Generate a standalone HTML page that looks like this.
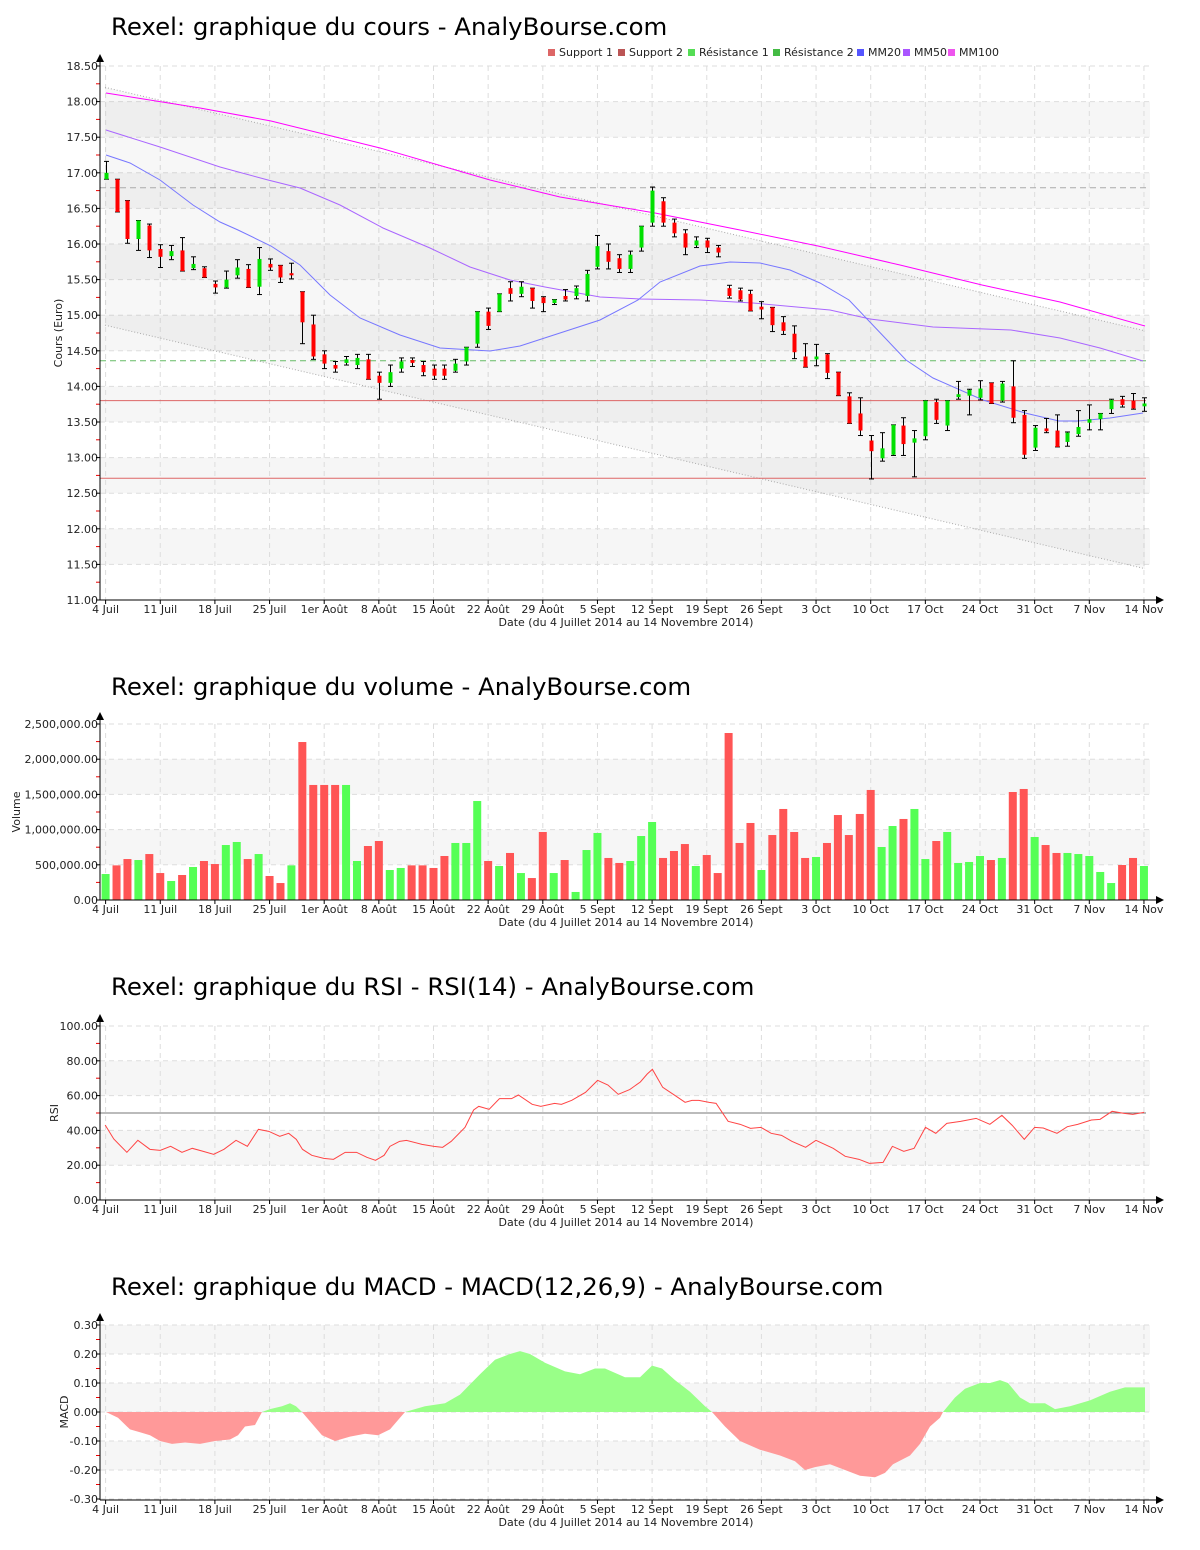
<!DOCTYPE html>
<html><head><meta charset="utf-8"><style>
html,body{margin:0;padding:0;background:#fff;}
svg{display:block;font-family:"DejaVu Sans","Liberation Sans",sans-serif;}
</style></head><body>
<svg id="s" width="1200" height="1550" xmlns="http://www.w3.org/2000/svg">
<text x="111" y="35" font-size="24.4" fill="#000">Rexel: graphique du cours - AnalyBourse.com</text>
<text x="111" y="695" font-size="24.4" fill="#000">Rexel: graphique du volume - AnalyBourse.com</text>
<text x="111" y="995" font-size="24.4" fill="#000">Rexel: graphique du RSI - RSI(14) - AnalyBourse.com</text>
<text x="111" y="1295" font-size="24.4" fill="#000">Rexel: graphique du MACD - MACD(12,26,9) - AnalyBourse.com</text>
</svg>
<script>
const S=document.getElementById('s');const NS='http://www.w3.org/2000/svg';
function el(t,a,txt){const e=document.createElementNS(NS,t);for(const k in a)e.setAttribute(k,a[k]);if(txt!==undefined)e.textContent=txt;S.appendChild(e);return e;}
const X=i=>105.6+10.93*i;
const L=100,R=1150;
const dates=["4 Juil","11 Juil","18 Juil","25 Juil","1er Août","8 Août","15 Août","22 Août","29 Août","5 Sept","12 Sept","19 Sept","26 Sept","3 Oct","10 Oct","17 Oct","24 Oct","31 Oct","7 Nov","14 Nov"];
function frame(top,bot,vals,yf,fmt,bands,title,tmid){
  bands.forEach(b=>{const y1=yf(b[0]),y2=yf(b[1]);el('rect',{x:L,y:Math.min(y1,y2),width:R-L,height:Math.abs(y2-y1),fill:'#f6f6f6'});});
  vals.forEach(v=>{const y=yf(v);el('line',{x1:L,x2:R,y1:y,y2:y,stroke:'#ddd','stroke-dasharray':'5,4'});
    el('text',{x:98,y:y+4,'font-size':11,'text-anchor':'end',fill:'#222'},fmt(v));
    el('line',{x1:96,x2:100,y1:y,y2:y,stroke:'#000'});});
  for(let k=0;k<vals.length-1;k++){const y=(yf(vals[k])+yf(vals[k+1]))/2;el('line',{x1:96,x2:100,y1:y,y2:y,stroke:'#e00'});}
  for(let w=0;w<20;w++){const x=X(w*5);el('line',{x1:x,x2:x,y1:top,y2:bot,stroke:'#ddd','stroke-dasharray':'5,4'});
    el('line',{x1:x,x2:x,y1:bot,y2:bot+4,stroke:'#000'});
    el('text',{x:x,y:bot+13,'font-size':11,'text-anchor':'middle',fill:'#222'},dates[w]);}
  el('text',{x:626,y:bot+26,'font-size':11,'text-anchor':'middle',fill:'#222'},"Date (du 4 Juillet 2014 au 14 Novembre 2014)");
  el('text',{x:0,y:0,'font-size':11,'text-anchor':'middle',fill:'#222',transform:`translate(${tmid[0]},${tmid[1]}) rotate(-90)`},title);
}
function axes(top,bot){
  el('line',{x1:L,x2:L,y1:top-6,y2:bot,stroke:'#000'});
  el('line',{x1:L,x2:1158,y1:bot,y2:bot,stroke:'#000'});
  el('polygon',{points:`${L-4},${top-4} ${L+4},${top-4} ${L},${top-12}`,fill:'#000'});
  el('polygon',{points:`1156,${bot-4} 1156,${bot+4} 1164,${bot}`,fill:'#000'});
}
const yp=p=>66+(18.5-p)*71.2;
let pv=[];for(let v=11;v<=18.5001;v+=0.5)pv.push(+v.toFixed(2));
frame(66,600,pv,yp,v=>v.toFixed(2),[[18,17.5],[17,16.5],[16,15.5],[15,14.5],[14,13.5],[13,12.5],[12,11.5]],"Cours (Euro)",[62,333]);
el('polygon',{points:`105,${yp(18.2)} 1145,${yp(14.78)} 1145,${yp(11.44)} 105,${yp(14.86)}`,fill:'rgba(0,0,0,0.03)'});
el('line',{x1:105,y1:yp(18.2),x2:1145,y2:yp(14.78),stroke:'#aaa','stroke-dasharray':'1,2'});
el('line',{x1:105,y1:yp(14.86),x2:1145,y2:yp(11.44),stroke:'#aaa','stroke-dasharray':'1,2'});
el('line',{x1:L,x2:1146,y1:yp(13.8),y2:yp(13.8),stroke:'#d66'});
el('line',{x1:L,x2:1146,y1:yp(12.71),y2:yp(12.71),stroke:'#d66'});
el('line',{x1:L,x2:1146,y1:yp(14.36),y2:yp(14.36),stroke:'#6b6','stroke-dasharray':'6,4'});
el('line',{x1:L,x2:1146,y1:yp(16.79),y2:yp(16.79),stroke:'#aaa','stroke-dasharray':'6,4'});
function pl(pts,c){el('polyline',{points:pts.map(p=>p.join(',')).join(' '),fill:'none',stroke:c,'stroke-width':1});}
pl([[106,93],[200,108],[271,121],[380,148],[490,180],[560,197],[655,213],[740,230],[818,246],[900,265],[982,285],[1060,302],[1145,326]],'#f0f');
pl([[106,130],[160,147],[220,167],[268,180],[300,188],[340,205],[383,228],[430,248],[470,267],[510,280],[545,287],[600,297],[640,299],[700,300],[753,303],[830,310],[870,319],[933,327],[1011,330],[1060,338],[1100,348],[1143,361]],'#a6f');
pl([[106,155],[130,163],[160,180],[193,205],[220,222],[238,230],[271,246],[300,265],[330,295],[360,318],[400,335],[440,348],[490,351],[520,346],[560,333],[600,320],[638,300],[660,282],[700,266],[730,262],[760,263],[790,270],[820,283],[849,300],[868,320],[906,360],[933,378],[983,400],[1025,413],[1059,421],[1078,421],[1110,418],[1143,413]],'#77f');
const C=[[16.91,17.0,17.16,16.91],[16.91,16.45,16.91,16.45],[16.61,16.07,16.61,16.01],[16.07,16.33,16.33,15.91],[16.26,15.91,16.28,15.81],[15.93,15.82,15.99,15.67],[15.83,15.9,15.98,15.78],[15.91,15.62,16.09,15.62],[15.66,15.72,15.82,15.64],[15.66,15.53,15.68,15.53],
[15.44,15.39,15.48,15.31],[15.39,15.5,15.62,15.38],[15.56,15.67,15.78,15.52],[15.65,15.39,15.71,15.39],[15.4,15.79,15.95,15.29],[15.72,15.67,15.79,15.63],[15.7,15.53,15.7,15.46],[15.59,15.56,15.73,15.51],[15.33,14.9,15.33,14.6],[14.87,14.42,15.0,14.38],
[14.45,14.32,14.5,14.25],[14.3,14.25,14.35,14.2],[14.33,14.38,14.42,14.3],[14.3,14.4,14.45,14.25],[14.38,14.1,14.45,14.1],[14.15,14.05,14.2,13.82],[14.05,14.2,14.3,14.0],[14.25,14.35,14.4,14.2],[14.37,14.33,14.4,14.28],[14.3,14.2,14.35,14.15],
[14.25,14.15,14.3,14.1],[14.25,14.15,14.3,14.1],[14.22,14.32,14.38,14.2],[14.35,14.55,14.55,14.3],[14.6,15.05,15.05,14.55],[15.05,14.85,15.1,14.8],[15.05,15.3,15.3,15.05],[15.38,15.3,15.47,15.2],[15.3,15.4,15.47,15.26],[15.38,15.2,15.38,15.1],
[15.25,15.17,15.26,15.05],[15.17,15.22,15.22,15.15],[15.27,15.22,15.36,15.2],[15.27,15.38,15.41,15.23],[15.27,15.58,15.63,15.2],[15.68,15.97,16.12,15.65],[15.9,15.75,16.0,15.65],[15.8,15.65,15.85,15.6],[15.65,15.85,15.9,15.6],[15.95,16.25,16.25,15.9],
[16.3,16.75,16.8,16.25],[16.6,16.3,16.65,16.25],[16.3,16.15,16.35,16.1],[16.15,15.95,16.2,15.85],[15.98,16.05,16.1,15.95],[16.05,15.95,16.08,15.88],[15.95,15.88,15.98,15.82],[15.38,15.27,15.42,15.24],[15.35,15.22,15.38,15.2],[15.3,15.06,15.35,15.06],
[15.12,15.08,15.19,14.95],[15.11,14.86,15.11,14.77],[14.9,14.78,14.98,14.73],[14.74,14.48,14.85,14.39],[14.42,14.27,14.6,14.27],[14.38,14.42,14.59,14.29],[14.45,14.19,14.46,14.11],[14.2,13.87,14.2,13.87],[13.86,13.48,13.91,13.48],[13.62,13.38,13.84,13.31],
[13.24,13.09,13.31,12.7],[12.99,13.13,13.35,12.95],[13.04,13.46,13.46,13.03],[13.45,13.19,13.56,13.03],[13.21,13.27,13.38,12.73],[13.3,13.8,13.8,13.25],[13.78,13.53,13.82,13.48],[13.45,13.8,13.8,13.38],[13.85,13.89,14.07,13.82],[13.87,13.95,13.96,13.6],
[13.84,13.97,14.08,13.81],[14.05,13.76,14.05,13.76],[13.8,14.04,14.07,13.78],[14.0,13.56,14.36,13.49],[13.6,13.04,13.66,12.99],[13.14,13.42,13.45,13.1],[13.41,13.37,13.55,13.35],[13.38,13.15,13.6,13.15],[13.22,13.35,13.36,13.16],[13.33,13.43,13.66,13.3],
[13.49,13.54,13.74,13.39],[13.54,13.62,13.62,13.39],[13.68,13.81,13.82,13.62],[13.82,13.74,13.86,13.71],[13.8,13.69,13.9,13.68],[13.72,13.76,13.84,13.65]];
C.forEach((c,i)=>{const x=Math.round(X(i))+0.5;const [o,cl,h,l]=c;
  el('line',{x1:x,x2:x,y1:yp(h),y2:yp(l),stroke:'#000'});
  el('line',{x1:x-2.5,x2:x+2.5,y1:yp(h),y2:yp(h),stroke:'#000'});
  el('line',{x1:x-2.5,x2:x+2.5,y1:yp(l),y2:yp(l),stroke:'#000'});
  const t=yp(Math.max(o,cl)),b=yp(Math.min(o,cl));
  el('rect',{x:x-2,y:t,width:4,height:Math.max(b-t,2),fill:cl>=o?'#00e000':'#f00'});});
axes(66,600);
[["Support 1","#d66",548],["Support 2","#b55",618],["Résistance 1","#5d5",688],["Résistance 2","#4b4",773],["MM20","#55f",857],["MM50","#a5f",903],["MM100","#e5e",948]].forEach(a=>{
  el('rect',{x:a[2],y:49,width:7,height:7,fill:a[1]});el('text',{x:a[2]+11,y:56,'font-size':11,fill:'#222'},a[0]);});
const yv=v=>900-v*0.0704;
frame(724,900,[0,500,1000,1500,2000,2500],yv,v=>(v*1000).toLocaleString('en-US')+'.00',[[1500,2000],[500,1000]],"Volume",[20,812]);
const V=[[369,1],[492,0],[582,0],[568,1],[653,0],[383,0],[270,1],[355,0],[469,1],[554,0],[511,0],[781,1],[824,1],[582,0],[653,1],[341,0],[241,0],[492,1],[2244,0],[1634,0],[1634,0],[1634,0],[1634,1],[554,1],[767,0],[838,0],[426,1],[455,1],[492,0],[492,0],[455,0],[625,0],[810,1],[810,1],[1406,1],[554,0],[483,1],[668,0],[383,1],[312,0],[966,0],[383,1],[568,0],[114,1],[710,1],[952,1],[597,0],[526,0],[554,1],[909,1],
[1108,1],[597,0],[696,0],[795,0],[483,1],[639,0],[383,0],[2372,0],[810,0],[1094,0],[426,1],[923,0],[1293,0],[966,0],[597,0],[611,1],[810,0],[1207,0],[923,0],[1222,0],[1563,0],[753,1],[1051,1],[1151,0],[1293,1],[582,1],[838,0],[966,1],[526,1],[540,1],[625,1],[568,0],[597,1],[1534,0],[1577,0],[895,1],[781,0],[668,0],[668,1],[653,1],[625,1],[398,1],[241,1],[497,0],[597,0],[483,1]];
V.forEach((v,i)=>{const x=X(i);el('rect',{x:x-4,y:yv(v[0]),width:8,height:900-yv(v[0]),fill:v[1]?'#5f5':'#f55'});});
axes(724,900);
const yr=r=>1200-r*1.74;
frame(1026,1200,[0,20,40,60,80,100],yr,v=>v.toFixed(2),[[80,60],[40,20]],"RSI",[58,1113]);
el('line',{x1:L,x2:1146,y1:yr(50),y2:yr(50),stroke:'#777'});
const r1=[[15,195],[40,237],[78,277],[110,241],[145,268],[175,271],[205,259],[238,277],[268,265],[300,274],[330,283],[360,268],[395,241],[428,259],[460,208],[490,214],[522,229],[548,220],[570,238],[588,268],[615,286],[650,295],[678,298],[712,277],[745,277],[775,292],[800,301],[825,286],[842,259],[870,244],[890,241],[935,253],[970,259],[995,262],[1020,244],[1060,202],[1085,150],[1100,139],[1130,148],[1160,116],[1195,116],[1215,105],[1255,133],[1280,139],[1320,130],[1340,133],[1370,121],[1410,97],[1445,61],[1475,75],[1505,103],[1540,88]].map(p=>[100+p[0]/2.904,1060+p[1]/3]);
const r2=[[0,88],[30,66],[50,42],[65,28],[95,82],[130,106],[160,127],[180,121],[200,121],[230,127],[250,130],[285,184],[320,193],[350,205],[380,202],[410,220],[440,226],[470,244],[510,262],[540,241],[590,265],[625,289],[665,298],[695,310],[735,307],[762,259],[795,274],[825,265],[858,202],[888,220],[920,190],[960,184],[1005,175],[1045,193],[1080,166],[1110,196],[1145,238],[1175,202],[1200,204],[1240,220],[1270,200],[1300,193],[1340,180],[1365,178],[1400,154],[1435,160],[1460,163],[1493,157]].map(p=>[630+p[0]/2.904,1060+p[1]/3]);
pl(r1.concat(r2),'#f44');
axes(1026,1200);
const ym=m=>1412-m*290;
frame(1325,1500,[-0.3,-0.2,-0.1,0,0.1,0.2,0.3],ym,v=>v.toFixed(2),[[0.3,0.2],[0.1,0],[-0.1,-0.2]],"MACD",[68,1412]);
const M=[[106,0],[118,-0.02],[130,-0.06],[140,-0.07],[150,-0.08],[160,-0.1],[172,-0.11],[185,-0.105],[200,-0.11],[215,-0.1],[230,-0.095],[238,-0.08],[245,-0.05],[255,-0.045],[262,0],[270,0.01],[282,0.02],[290,0.03],[296,0.02],[302,0],[312,-0.04],[322,-0.08],[335,-0.1],[350,-0.085],[365,-0.075],[378,-0.08],[390,-0.06],[400,-0.02],[405,0],[425,0.02],[445,0.03],[460,0.06],[480,0.13],[495,0.18],[510,0.2],[520,0.21],[530,0.2],[545,0.17],[565,0.14],[580,0.13],[595,0.15],[605,0.15],[625,0.12],[640,0.12],[652,0.16],[662,0.15],[675,0.11],[690,0.07],[705,0.02],[712,0],[725,-0.05],[740,-0.1],[760,-0.13],[780,-0.15],[795,-0.17],[805,-0.2],[815,-0.19],[830,-0.18],[845,-0.2],[860,-0.22],[875,-0.225],[885,-0.21],[893,-0.18],[910,-0.15],[920,-0.11],[930,-0.05],[940,-0.02],[943,0],[955,0.05],[965,0.08],[980,0.1],[990,0.1],[1000,0.11],[1008,0.1],[1020,0.05],[1030,0.03],[1045,0.03],[1055,0.01],[1070,0.02],[1090,0.04],[1110,0.07],[1125,0.085],[1145,0.085]];
let seg=[],segs=[];
for(let k=0;k<M.length;k++){seg.push(M[k]);if(k>0&&M[k][1]===0){segs.push(seg);seg=[M[k]];}}
segs.push(seg);
segs.forEach(s=>{const pos=s.some(p=>p[1]>0);let pts=s.map(p=>p[0]+','+ym(p[1]));pts.push(s[s.length-1][0]+','+ym(0));pts.unshift(s[0][0]+','+ym(0));
  el('polygon',{points:pts.join(' '),fill:pos?'#99ff88':'#ff9999'});});
axes(1325,1500);
</script>
</body></html>
